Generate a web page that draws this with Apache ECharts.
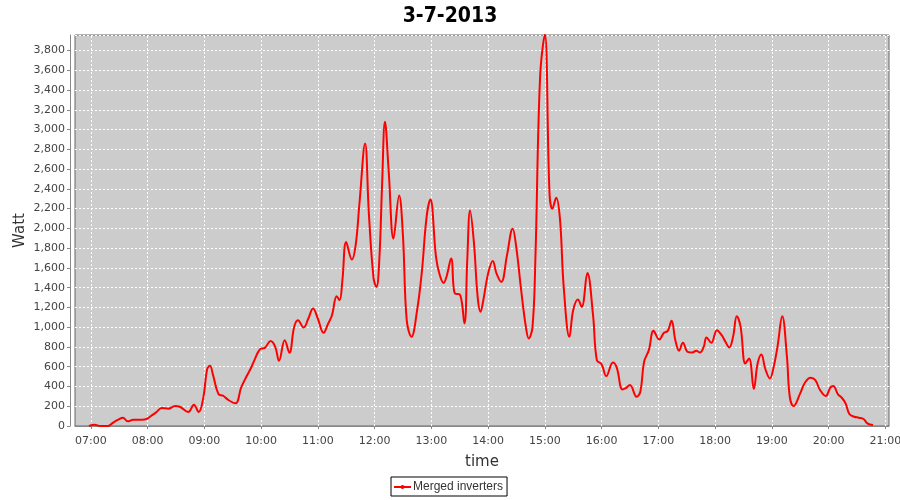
<!DOCTYPE html>
<html><head><meta charset="utf-8">
<script src="https://cdn.jsdelivr.net/npm/echarts@6/dist/echarts.min.js"></script>
<style>html,body{margin:0;padding:0;background:#fff}#c{width:900px;height:500px}</style>
</head><body><div id="c"></div><script>
const chartTitle = '3-7-2013';
const seriesName = 'Merged inverters';
const xName = 'time';
const yName = 'Watt';
const hourTicks = [7,8,9,10,11,12,13,14,15,16,17,18,19,20,21];
const wattTicks = [0,200,400,600,800,1000,1200,1400,1600,1800,2000,2200,2400,2600,2800,3000,3200,3400,3600,3800];
const times = [
'06:58','07:04','07:10','07:18','07:24','07:29','07:34','07:39','07:45','07:54','07:59',
'08:04','08:09','08:15','08:22','08:29','08:34','08:43','08:49','08:54','08:59',
'09:03','09:06','09:09','09:15','09:20','09:25','09:33','09:39','09:45','09:50','09:53','09:59',
'10:04','10:10','10:15','10:19','10:25','10:30','10:35','10:39','10:45','10:50','10:55',
'11:00','11:06','11:11','11:15','11:20','11:23','11:26','11:30','11:36','11:40','11:44','11:50','11:54','11:59',
'12:02','12:05','12:08','12:11','12:15','12:20','12:26','12:30','12:34','12:39','12:45','12:50','12:55','12:59',
'13:05','13:09','13:13','13:16','13:21','13:25','13:30','13:35','13:38','13:41','13:45','13:49','13:52','13:55',
'14:00','14:05','14:09','14:14','14:20','14:26','14:30','14:35','14:40','14:43','14:47','14:50','14:55',
'15:00','15:05','15:08','15:12','15:16','15:20','15:26','15:30','15:35','15:39','15:45','15:51','15:55',
'16:00','16:05','16:12','16:16','16:22','16:25','16:30','16:37','16:41','16:45','16:50','16:55',
'17:01','17:06','17:10','17:14','17:18','17:22','17:26','17:31','17:36','17:40','17:44','17:48','17:51','17:56',
'18:02','18:07','18:11','18:15','18:19','18:23','18:27','18:32','18:36','18:41','18:45','18:49','18:53','18:58',
'19:02','19:06','19:11','19:16','19:19','19:23','19:30','19:35','19:41','19:46','19:51','19:57',
'20:02','20:05','20:10','20:14','20:18','20:22','20:27','20:32','20:37','20:41','20:47'
];
const watts = [
0,13,0,0,37,64,84,47,64,64,71,
104,138,182,175,202,195,141,215,141,290,
576,609,525,323,306,266,229,390,508,600,667,778,
791,859,801,660,869,741,1003,1071,997,1088,1189,
1088,943,1037,1121,1313,1273,1475,1862,1684,1828,2249,2860,2148,1492,
1407,1677,2451,3080,2569,1896,2333,1929,1071,902,1172,1559,2114,2293,
1710,1525,1448,1508,1694,1340,1333,1037,1677,2182,1862,1306,1155,1273,
1542,1670,1542,1458,1727,1997,1795,1374,1003,886,1003,1677,3530,
3960,2350,2199,2310,2098,1407,902,1172,1279,1205,1549,1121,667,
626,505,643,593,370,380,414,296,347,650,768,963,
875,943,963,1064,869,761,842,751,744,761,744,801,896,842,
970,919,852,795,902,1111,1003,633,683,375,633,724,582,481,
599,801,1111,700,296,202,330,438,488,465,364,303,
391,404,320,286,229,121,94,84,71,27,10
];
function toHours(s){const p=s.split(':');return +p[0]+(+p[1])/60;}
const data = times.map((t,i)=>[toHours(t), watts[i]]);
const tickFont = {fontFamily:'DejaVu Sans', fontSize:11, color:'#444'};
const gridLineStyle = {color:'#ffffff', type:[2,2], width:1};
const chart = echarts.init(document.getElementById('c'), null, {renderer:'canvas'});
chart.setOption({
  animation:false,
  backgroundColor:'#ffffff',
  title:{text:chartTitle, left:'center', top:1,
    textStyle:{fontFamily:'DejaVu Sans Condensed, DejaVu Sans', fontWeight:'bold', fontSize:21, color:'#000'}},
  legend:{left:391, top:477, data:[seriesName], borderColor:'#000', borderWidth:1,
    padding:[4,4,3,2], itemWidth:17, itemHeight:5,
    textStyle:{fontFamily:'Liberation Sans', fontSize:12, color:'#333', padding:[0,0,0,-3]}},
  grid:{left:75, right:11, top:35, bottom:74, show:true, outerBoundsMode:'none',
    backgroundColor:'#cccccc', borderColor:'#666', borderWidth:1},
  xAxis:{type:'value', min:6.7216, max:21.065, name:xName, nameLocation:'middle', nameGap:25,
    offset:4, nameMoveOverlap:false,
    nameTextStyle:{fontFamily:'DejaVu Sans', fontSize:15, color:'#333'},
    axisLine:{show:true, lineStyle:{color:'#888'}},
    axisTick:{show:true, length:3, lineStyle:{color:'#888'}, customValues:hourTicks},
    axisLabel:Object.assign({margin:6, customValues:hourTicks,
      formatter:v=>String(Math.round(v)).padStart(2,'0')+':00'}, tickFont),
    splitLine:{show:false}},
  yAxis:{type:'value', min:0, max:3957, interval:200, name:yName, nameLocation:'middle', nameGap:42,
    offset:5, nameMoveOverlap:false,
    nameTextStyle:{fontFamily:'DejaVu Sans', fontSize:15, color:'#333'},
    axisLine:{show:true, lineStyle:{color:'#888'}},
    axisTick:{show:true, length:3, lineStyle:{color:'#888'}},
    axisLabel:Object.assign({margin:5, showMaxLabel:false,
      formatter:v=>wattTicks.indexOf(v)>=0?v.toLocaleString('en-US'):''}, tickFont),
    splitLine:{show:true, lineStyle:gridLineStyle}},
  series:[
    {type:'line', name:'hourGrid', data:[], z:1, silent:true,
      markLine:{z:1, silent:true, symbol:['none','none'], label:{show:false}, animation:false,
        lineStyle:gridLineStyle, emphasis:{disabled:true},
        data:hourTicks.map(h=>({xAxis:h}))}},
    {type:'line', name:seriesName, data:data, z:3, smooth:0.4, showSymbol:false, symbol:'circle', symbolSize:4,
      lineStyle:{color:'#ff0000', width:2}, itemStyle:{color:'#ff0000'}}]
});
</script></body></html>
